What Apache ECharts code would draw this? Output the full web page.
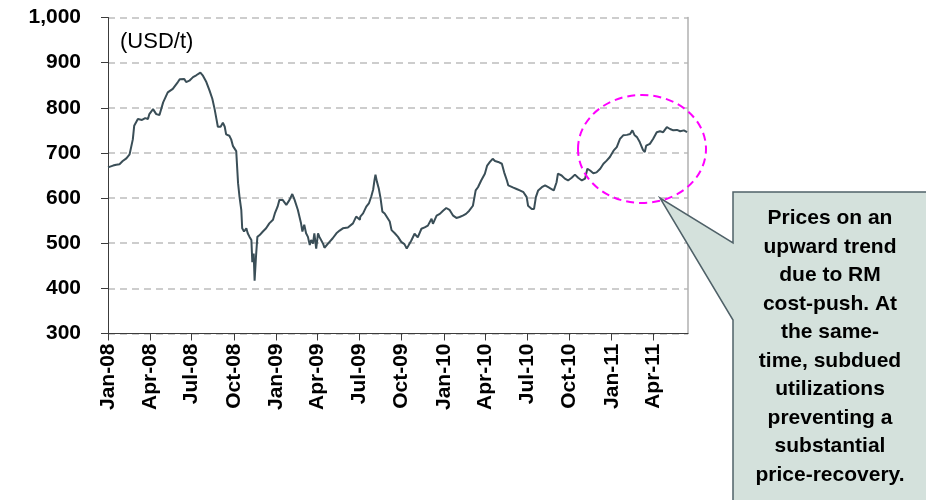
<!DOCTYPE html>
<html>
<head>
<meta charset="utf-8">
<script src="https://cdn.jsdelivr.net/npm/echarts@6/dist/echarts.min.js"></script>
<style>
  html, body { margin: 0; padding: 0; background: #fff; }
  #chart { width: 926px; height: 500px; }
</style>
</head>
<body>
<div id="chart"></div>
<script>
// Daily price observations (USD/t)
const dates = [
  '2008-01-01','2008-01-05','2008-01-12','2008-01-19','2008-01-26','2008-02-02','2008-02-10','2008-02-17','2008-02-20','2008-02-24',
  '2008-02-27','2008-03-06','2008-03-15','2008-03-22','2008-03-28','2008-03-31','2008-04-08','2008-04-15','2008-04-22','2008-04-30',
  '2008-05-10','2008-05-21','2008-06-01','2008-06-05','2008-06-15','2008-06-19','2008-06-26','2008-07-04','2008-07-11','2008-07-20',
  '2008-07-25','2008-08-02','2008-08-09','2008-08-15','2008-08-20','2008-08-24','2008-08-27','2008-09-02','2008-09-07','2008-09-11',
  '2008-09-14','2008-09-21','2008-09-25','2008-09-29','2008-10-06','2008-10-08','2008-10-10','2008-10-13','2008-10-17','2008-10-19',
  '2008-10-23','2008-10-28','2008-10-31','2008-11-04','2008-11-08','2008-11-10','2008-11-13','2008-11-15','2008-11-16','2008-11-18',
  '2008-11-21','2008-11-26','2008-12-03','2008-12-10','2008-12-17','2008-12-25','2008-12-29','2009-01-04','2009-01-08','2009-01-15',
  '2009-01-23','2009-01-30','2009-02-05','2009-02-10','2009-02-17','2009-02-24','2009-02-27','2009-03-03','2009-03-07','2009-03-11',
  '2009-03-15','2009-03-18','2009-03-22','2009-03-25','2009-03-29','2009-04-02','2009-04-05','2009-04-13','2009-04-16','2009-04-20',
  '2009-04-27','2009-05-04','2009-05-12','2009-05-19','2009-05-26','2009-06-06','2009-06-17','2009-06-24','2009-07-02','2009-07-03',
  '2009-07-09','2009-07-16','2009-07-22','2009-07-27','2009-07-31','2009-08-03','2009-08-05','2009-08-08','2009-08-12','2009-08-16',
  '2009-08-20','2009-08-25','2009-08-29','2009-09-05','2009-09-09','2009-09-16','2009-09-23','2009-09-30','2009-10-07','2009-10-12',
  '2009-10-15','2009-10-22','2009-10-29','2009-11-05','2009-11-13','2009-11-20','2009-11-27','2009-12-05','2009-12-08','2009-12-16',
  '2009-12-23','2009-12-30','2010-01-06','2010-01-13','2010-01-21','2010-01-28','2010-02-04','2010-02-11','2010-02-18','2010-02-25',
  '2010-03-05','2010-03-11','2010-03-16','2010-03-23','2010-03-31','2010-04-05','2010-04-11','2010-04-17','2010-04-22','2010-04-29',
  '2010-05-07','2010-05-12','2010-05-18','2010-05-21','2010-05-25','2010-06-01','2010-06-08','2010-06-15','2010-06-23','2010-06-30',
  '2010-07-03','2010-07-11','2010-07-16','2010-07-20','2010-07-25','2010-08-02','2010-08-09','2010-08-16','2010-08-23','2010-08-28',
  '2010-09-03','2010-09-06','2010-09-14','2010-09-21','2010-09-28','2010-10-06','2010-10-13','2010-10-20','2010-10-28','2010-11-04',
  '2010-11-09','2010-11-15','2010-11-22','2010-11-29','2010-12-07','2010-12-14','2010-12-21','2010-12-28','2011-01-05','2011-01-12',
  '2011-01-19','2011-01-26','2011-02-03','2011-02-10','2011-02-15','2011-02-20','2011-02-25','2011-03-03','2011-03-10','2011-03-14',
  '2011-03-17','2011-03-25','2011-04-01','2011-04-09','2011-04-16','2011-04-23','2011-05-01','2011-05-08','2011-05-15','2011-05-23',
  '2011-05-30','2011-06-07','2011-06-14'
];
const prices = [
  668, 667, 672, 674, 675, 682, 688, 697, 700, 730,
  760, 775, 773, 777, 775, 786, 797, 786, 784, 812,
  834, 842, 857, 863, 864, 857, 860, 868, 872, 878,
  872, 857, 838, 820, 797, 775, 758, 758, 767, 758,
  741, 738, 730, 715, 704, 700, 633, 604, 574, 533,
  526, 533, 522, 514, 507, 458, 477, 417, 414, 470,
  514, 518, 526, 533, 544, 552, 566, 581, 596, 596,
  585, 596, 609, 596, 574, 544, 526, 541, 522, 514,
  496, 507, 499, 522, 488, 522, 514, 499, 490, 492,
  503, 511, 522, 528, 533, 535, 544, 559, 552, 559,
  566, 581, 589, 604, 619, 641, 652, 637, 622, 600,
  570, 566, 563, 548, 529, 522, 514, 503, 498, 488,
  485, 506, 521, 513, 532, 535, 539, 554, 543, 561,
  565, 572, 578, 574, 561, 556, 558, 561, 565, 572,
  583, 617, 624, 639, 654, 672, 680, 687, 682, 680,
  676, 657, 639, 628, 631, 623, 620, 617, 613, 602,
  583, 576, 576, 602, 617, 624, 628, 624, 620, 617,
  635, 654, 650, 643, 639, 645, 652, 645, 639, 643,
  665, 661, 655, 657, 665, 676, 683, 691, 705, 713,
  731, 739, 740, 742, 750, 739, 735, 724, 707, 702,
  716, 720, 731, 746, 748, 746, 757, 753, 750, 751,
  748, 750, 746
];
// Quarterly tick dates along the x axis
const quarterTicks = [
  '2008-01-01','2008-04-01','2008-07-01','2008-10-01',
  '2009-01-01','2009-04-01','2009-07-01','2009-10-01',
  '2010-01-01','2010-04-01','2010-07-01','2010-10-01',
  '2011-01-01','2011-04-01'
];
const axisStart = '2008-01-01';
const axisEnd = '2011-06-16';
const yTicks = { min: 300, max: 1000, step: 100 };
const monthNames = ['Jan','Feb','Mar','Apr','May','Jun','Jul','Aug','Sep','Oct','Nov','Dec'];

const calloutLines = [
  'Prices on an',
  'upward trend',
  'due to RM',
  'cost-push. At',
  'the same-',
  'time, subdued',
  'utilizations',
  'preventing a',
  'substantial',
  'price-recovery.'
];

function toTime(s) {
  const p = s.split('-').map(Number);
  return new Date(p[0], p[1] - 1, p[2]).getTime();
}
function thousands(v) {
  return String(v).replace(/\B(?=(\d{3})+(?!\d))/g, ',');
}
function quarterLabel(v) {
  const d = new Date(v);
  return monthNames[d.getMonth()] + '-' + String(d.getFullYear()).slice(2);
}

const FONT = '"Liberation Sans", Arial, sans-serif';
const tickTimes = quarterTicks.map(toTime);
const seriesData = dates.map((d, i) => [toTime(d), prices[i]]);

const chart = echarts.init(document.getElementById('chart'), null, { renderer: 'canvas' });

chart.setOption({
  animation: false,
  backgroundColor: '#ffffff',
  grid: { left: 108, right: 238, top: 17.5, bottom: 166.5, outerBoundsMode: 'none' },
  xAxis: {
    // timestamps on a linear axis so ticks can sit on quarter starts
    type: 'value',
    min: toTime(axisStart),
    max: toTime(axisEnd),
    axisLine: { show: true, lineStyle: { color: '#3c3c3c', width: 1 } },
    axisTick: { show: true, customValues: tickTimes, length: 7, lineStyle: { color: '#3c3c3c' } },
    axisLabel: {
      customValues: tickTimes,
      rotate: 90,
      margin: 10,
      color: '#000',
      fontFamily: FONT,
      fontWeight: 'bold',
      fontSize: 21,
      formatter: quarterLabel
    },
    splitLine: { show: false }
  },
  yAxis: [
    {
      type: 'value',
      min: yTicks.min,
      max: yTicks.max,
      interval: yTicks.step,
      axisLine: { show: true, lineStyle: { color: '#3c3c3c', width: 1 } },
      axisTick: { show: true, length: 7, lineStyle: { color: '#3c3c3c' } },
      axisLabel: {
        margin: 27,
        color: '#000',
        fontFamily: FONT,
        fontWeight: 'bold',
        fontSize: 21,
        formatter: thousands
      },
      splitLine: { show: true, lineStyle: { color: '#bdbdbd', width: 1.5, type: [7, 5] } }
    },
    {
      type: 'value',
      position: 'right',
      min: yTicks.min,
      max: yTicks.max,
      interval: yTicks.step,
      axisLine: { show: true, lineStyle: { color: '#b0b0b0', width: 1.5 } },
      axisTick: { show: false },
      axisLabel: { show: false },
      splitLine: { show: false }
    }
  ],
  series: [
    {
      type: 'line',
      data: seriesData,
      yAxisIndex: 0,
      showSymbol: false,
      symbol: 'none',
      lineStyle: { color: '#3a4e57', width: 2 },
      z: 3
    }
  ],
  graphic: [
    {
      type: 'text',
      left: 120,
      top: 31,
      style: { text: '(USD/t)', font: 'normal 22px ' + FONT, fill: '#000' },
      z: 10
    },
    {
      type: 'polygon',
      shape: {
        points: [[733, 192], [930, 192], [930, 505], [733, 505], [733, 320], [660, 198], [733, 243]]
      },
      style: { fill: '#d4e1dc', stroke: '#4f6168', lineWidth: 1.5 },
      z: 20
    },
    {
      type: 'text',
      x: 830,
      y: 204,
      style: {
        text: calloutLines.join('\n'),
        font: 'bold 21px ' + FONT,
        lineHeight: 28.5,
        align: 'center',
        verticalAlign: 'top',
        fill: '#000'
      },
      z: 21
    },
    {
      type: 'ellipse',
      shape: { cx: 642, cy: 149, rx: 64, ry: 54 },
      style: { fill: 'none', stroke: '#ff00ff', lineWidth: 2, lineDash: [8, 5] },
      z: 22
    }
  ]
});
</script>
</body>
</html>
